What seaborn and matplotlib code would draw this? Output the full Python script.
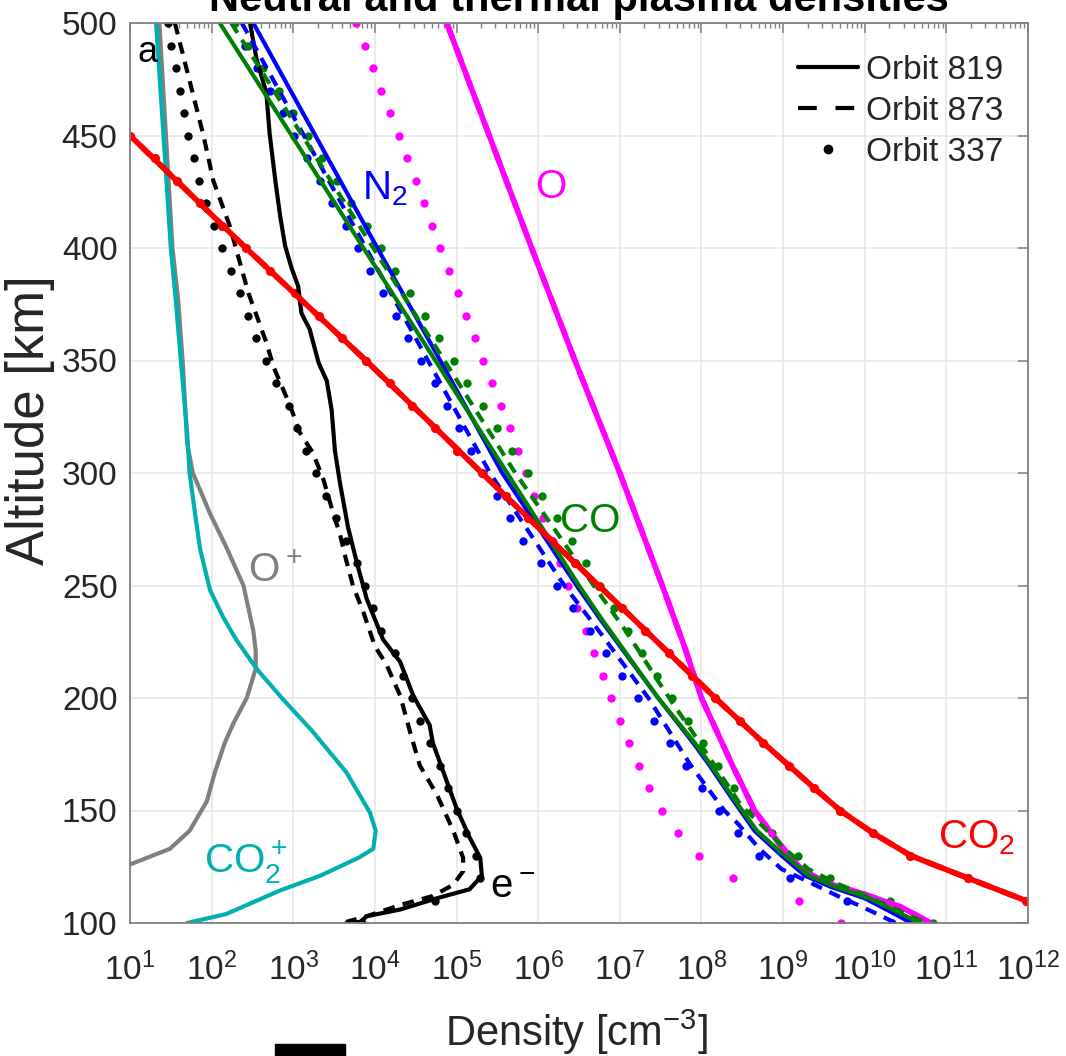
import numpy as np
import seaborn as sns
import matplotlib
matplotlib.use('Agg')
import matplotlib.pyplot as plt
from matplotlib.lines import Line2D
from matplotlib.patches import Rectangle
from matplotlib.ticker import LogLocator, NullFormatter

# ---- data (log10 of density in cm^-3, altitude in km) ----
alt_dots = [500, 490, 480, 470, 460, 450, 440, 430, 420, 410, 400, 390, 380, 370, 360, 350,
            340, 330, 320, 310, 300, 290, 280, 270, 260, 250, 240, 230, 220, 210, 200, 190,
            180, 170, 160, 150, 140, 130, 120, 110, 100]

# CO2 (all three orbits lie on top of each other)
co2_alt = [462, 450, 400, 350, 300, 280, 260, 240, 220, 200, 180, 160, 150, 140, 130, 120, 110, 104]
co2_log = [0.65, 1.00, 2.42, 3.89, 5.31, 5.88, 6.45, 7.03, 7.60, 8.17, 8.76, 9.38, 9.70, 10.10,
           10.56, 11.26, 11.97, 12.40]
co2_dot_alt = [450, 440, 430, 420, 410, 400, 390, 380, 370, 360, 350, 340, 330, 320, 310, 300,
               290, 280, 270, 260, 250, 240, 230, 220, 210, 200, 190, 180, 170, 160, 150, 140,
               130, 120, 110]
co2_dot_log = [1.00, 1.31, 1.58, 1.86, 2.13, 2.42, 2.71, 3.02, 3.31, 3.60, 3.89, 4.18, 4.46,
               4.74, 5.01, 5.31, 5.60, 5.88, 6.16, 6.45, 6.74, 7.03, 7.31, 7.60, 7.89, 8.17,
               8.47, 8.76, 9.07, 9.38, 9.70, 10.10, 10.56, 11.26, 11.97]

# O (819 and 873 identical)
o_alt = [500, 450, 400, 350, 300, 250, 222, 200, 170, 150, 135, 124, 118, 113, 107, 100]
o_log = [4.88, 5.40, 5.92, 6.45, 7.00, 7.52, 7.80, 8.00, 8.38, 8.65, 8.96, 9.22, 9.52, 9.98,
         10.45, 10.81]
o_337_log = [3.77, 3.88, 3.98, 4.08, 4.18, 4.29, 4.39, 4.50, 4.60, 4.70, 4.80, 4.91, 5.02, 5.12,
             5.22, 5.33, 5.44, 5.54, 5.65, 5.75, 5.85, 5.95, 6.06, 6.18, 6.27, 6.37, 6.47, 6.58,
             6.68, 6.79, 6.89, 7.00, 7.11, 7.23, 7.36, 7.52, 7.71, 7.97, 8.39, 9.19, 9.71]

# N2
n2_819_alt = [500, 450, 400, 350, 300, 250, 235, 200, 180, 170, 155, 141, 130, 121, 116, 111, 104, 100]
n2_819_log = [2.51, 3.27, 4.03, 4.80, 5.56, 6.47, 6.76, 7.47, 7.90, 8.10, 8.38, 8.65, 8.98, 9.27,
              9.59, 10.00, 10.37, 10.57]
n2_873_alt = [500, 450, 400, 350, 300, 250, 230, 200, 170, 150, 144, 133, 124, 118, 112, 107, 100]
n2_873_log = [2.37, 3.13, 3.89, 4.65, 5.41, 6.32, 6.74, 7.35, 7.87, 8.28, 8.45, 8.71, 8.98, 9.33,
              9.67, 9.98, 10.38]
n2_337_log = [2.27, 2.41, 2.55, 2.71, 2.87, 3.01, 3.17, 3.33, 3.48, 3.64, 3.79, 3.94, 4.10, 4.26,
              4.41, 4.57, 4.73, 4.88, 5.03, 5.18, 5.33, 5.49, 5.65, 5.82, 6.03, 6.23, 6.43, 6.64,
              6.83, 7.03, 7.22, 7.42, 7.61, 7.81, 8.01, 8.22, 8.45, 8.70, 9.08, 9.78, 10.33]

# CO
co_819_alt = [500, 450, 400, 350, 300, 250, 235, 200, 180, 170, 155, 141, 130, 121, 116, 111, 104, 100]
co_819_log = [2.10, 2.98, 3.86, 4.74, 5.62, 6.50, 6.78, 7.47, 7.92, 8.12, 8.40, 8.68, 9.02, 9.32,
              9.65, 10.06, 10.45, 10.68]
co_873_alt = [500, 450, 400, 350, 300, 250, 231, 220, 208, 197, 186, 175, 152, 142, 133, 124, 118,
              113, 107, 100]
co_873_log = [2.24, 3.11, 3.98, 4.85, 5.72, 6.68, 7.05, 7.25, 7.46, 7.66, 7.87, 8.07, 8.49, 8.78,
              9.02, 9.31, 9.63, 9.96, 10.33, 10.75]
co_337_log = [2.29, 2.45, 2.63, 2.82, 3.00, 3.18, 3.35, 3.53, 3.71, 3.90, 4.08, 4.24, 4.43, 4.61,
              4.79, 4.97, 5.13, 5.32, 5.49, 5.68, 5.87, 6.05, 6.23, 6.41, 6.58, 6.76, 6.93, 7.10,
              7.27, 7.46, 7.64, 7.83, 8.02, 8.20, 8.40, 8.62, 8.87, 9.18, 9.58, 10.31, 10.84]

# ions (orbit 819)
co2p_alt = [500, 450, 400, 377, 347, 318, 300, 281, 266, 248, 236, 226, 213, 200, 185, 167, 149,
            141, 133, 129, 121, 114.5, 104, 100]
co2p_log = [1.32, 1.41, 1.50, 1.56, 1.63, 1.70, 1.73, 1.80, 1.86, 1.98, 2.14, 2.30, 2.55, 2.86,
            3.24, 3.65, 3.94, 4.01, 3.98, 3.80, 3.33, 2.84, 2.18, 1.70]
op_alt = [500, 450, 400, 377, 347, 313, 300, 282, 267, 250, 230, 221, 213, 200, 189, 180, 167,
          154, 141, 133, 126, 122]
op_log = [1.36, 1.44, 1.52, 1.59, 1.65, 1.70, 1.77, 1.98, 2.18, 2.39, 2.51, 2.54, 2.54, 2.43,
          2.27, 2.16, 2.04, 1.94, 1.73, 1.49, 1.00, 0.70]

# electrons
e_819_alt = [500, 484, 469, 451, 430, 414, 401, 391, 383, 377, 371, 364, 349, 341, 328, 310, 296,
             276, 260, 244, 226, 216, 201, 188, 180, 167, 151, 138, 129, 121, 115, 111, 106, 103,
             100.5, 100]
e_819_log = [2.47, 2.55, 2.67, 2.71, 2.78, 2.84, 2.90, 2.98, 3.06, 3.08, 3.10, 3.20, 3.31, 3.41,
             3.47, 3.51, 3.57, 3.67, 3.78, 3.90, 4.10, 4.31, 4.47, 4.67, 4.71, 4.84, 5.00, 5.16,
             5.29, 5.31, 5.16, 4.76, 4.31, 3.90, 3.82, 3.65]
e_873_alt = [500, 450, 430, 410, 380, 370, 358, 347, 330, 318, 309, 297, 282, 273, 261, 250, 238,
             223, 215, 201, 185, 170, 157, 141, 129, 123, 117, 112, 108, 103, 100.5]
e_873_log = [1.55, 1.90, 2.02, 2.22, 2.45, 2.55, 2.67, 2.76, 2.96, 3.08, 3.24, 3.37, 3.49, 3.57,
             3.65, 3.73, 3.86, 4.00, 4.14, 4.31, 4.43, 4.55, 4.76, 4.96, 5.08, 5.08, 4.96, 4.71,
             4.31, 3.90, 3.65]
e_337_log = [1.47, 1.50, 1.56, 1.61, 1.66, 1.71, 1.78, 1.84, 1.93, 2.03, 2.13, 2.24, 2.35, 2.44,
             2.54, 2.67, 2.79, 2.95, 3.05, 3.15, 3.28, 3.40, 3.52, 3.64, 3.78, 3.88, 3.98, 4.08,
             4.24, 4.35, 4.45, 4.55, 4.67, 4.80, 4.90, 5.00, 5.12, 5.24, 5.29, 4.74, 3.84]

RED, BLUE, GREEN, MAGENTA = '#ff0000', '#0000ff', '#008000', '#ff00ff'
CYAN, GRAY, BLACK = '#00b0b0', '#808080', '#000000'
DASH = (0, (2.8, 2.0))

sns.set_theme(style='whitegrid')
plt.rcParams['font.family'] = ['Liberation Sans', 'DejaVu Sans']
plt.rcParams['mathtext.default'] = 'regular'

fig = plt.figure(figsize=(10.66, 10.56), dpi=100)
fig.patch.set_facecolor('white')
ax = fig.add_axes([130 / 1066, 1 - 923 / 1056, 898 / 1066, 900 / 1056])
ax.set_facecolor('white')


def line(logn, alt, color, ls='-', lw=3.0):
    sns.lineplot(x=10 ** np.asarray(logn), y=alt, sort=False, estimator=None,
                 color=color, linestyle=ls, linewidth=lw, ax=ax)


def dots(logn, alt, color, s=36):
    sns.scatterplot(x=10 ** np.asarray(logn), y=alt, color=color, s=s, linewidth=0, ax=ax)


# ions
line(op_log, op_alt, GRAY)
line(co2p_log, co2p_alt, CYAN)
# electrons
line(e_819_log, e_819_alt, BLACK)
line(e_873_log, e_873_alt, BLACK, DASH)
dots(e_337_log, alt_dots, BLACK)
# neutrals
dots(o_337_log, alt_dots, MAGENTA)
line(o_log, o_alt, MAGENTA, lw=4.0)
line(o_log, o_alt, MAGENTA, DASH, lw=4.0)
line(n2_819_log, n2_819_alt, BLUE)
line(n2_873_log, n2_873_alt, BLUE, DASH)
dots(n2_337_log, alt_dots, BLUE)
line(co_819_log, co_819_alt, GREEN)
line(co_873_log, co_873_alt, GREEN, DASH)
dots(co_337_log, alt_dots, GREEN)
line(co2_log, co2_alt, RED, lw=4.0)
line(co2_log, co2_alt, RED, DASH, lw=4.0)
dots(co2_dot_log, co2_dot_alt, RED, s=44)

ax.set_xscale('log')
ax.set_xlim(1e1, 1e12)
ax.set_ylim(100, 500)
ax.set_xticks([10.0 ** k for k in range(1, 13)])
ax.xaxis.set_minor_locator(LogLocator(base=10, subs=np.arange(2, 10), numticks=100))
ax.xaxis.set_minor_formatter(NullFormatter())
ax.set_yticks(range(100, 501, 50))
ax.set_xlabel('')
ax.set_ylabel('')
ax.grid(True, which='major', color='#e6e6e6', linewidth=1.1)
ax.grid(False, which='minor')
ax.tick_params(which='both', direction='in', top=True, right=True, color='#808080',
               labelcolor='#262626', labelsize=24)
ax.tick_params(which='major', length=7, width=1.1, pad=9)
ax.tick_params(axis='x', which='major', pad=21)
ax.tick_params(which='minor', length=3.5, width=1.0)
for sp in ax.spines.values():
    sp.set_color('#808080')
    sp.set_linewidth(1.3)

# curve labels
LBL = 29
ax.text(10 ** 1.09, 482.7, 'a', fontsize=26, color=BLACK, va='baseline')
ax.text(10 ** 3.84, 421.7, 'N$_2$', fontsize=LBL, color=BLUE, va='baseline')
ax.text(10 ** 5.96, 422.0, 'O', fontsize=LBL, color=MAGENTA, va='baseline')
ax.text(10 ** 6.27, 273.8, 'CO', fontsize=LBL, color=GREEN, va='baseline')
ax.text(10 ** 10.90, 133.3, 'CO$_2$', fontsize=LBL, color=RED, va='baseline')
ax.text(10 ** 2.45, 251.6, 'O$^+$', fontsize=LBL, color=GRAY, va='baseline')
ax.text(10 ** 1.91, 122.2, 'CO$_2^+$', fontsize=LBL, color=CYAN, va='baseline')
ax.text(10 ** 5.41, 111.1, 'e$^-$', fontsize=LBL, color=BLACK, va='baseline')

handles = [Line2D([], [], color=BLACK, lw=3.0, ls='-'),
           Line2D([], [], color=BLACK, lw=3.0, ls=(0, (4.5, 4.5))),
           Line2D([], [], color=BLACK, lw=0, marker='o', markersize=6)]
ax.legend(handles, ['Orbit 819', 'Orbit 873', 'Orbit 337'], loc='upper right', frameon=False,
          fontsize=24, handlelength=1.8, handletextpad=0.25, labelspacing=0.3,
          borderaxespad=0.55, bbox_to_anchor=(1.008, 1.0))

fig.text(579 / 1066, 1 - 11 / 1056, 'Neutral and thermal plasma densities', fontsize=30,
         fontweight='bold', ha='center', va='baseline', color='black')
fig.text(30 / 1066, 1 - 420 / 1056, 'Altitude [km]', fontsize=38, rotation=90,
         ha='center', va='center', color='#262626')
fig.text(576 / 1066, 1 - 1032 / 1056, 'Density [cm$^{-3}$]', fontsize=30,
         ha='center', va='center', color='#262626')
fig.patches.append(Rectangle((275 / 1066, 0), 70 / 1066, 12 / 1056,
                             transform=fig.transFigure, color='black'))

fig.savefig('out.png', dpi=100)
